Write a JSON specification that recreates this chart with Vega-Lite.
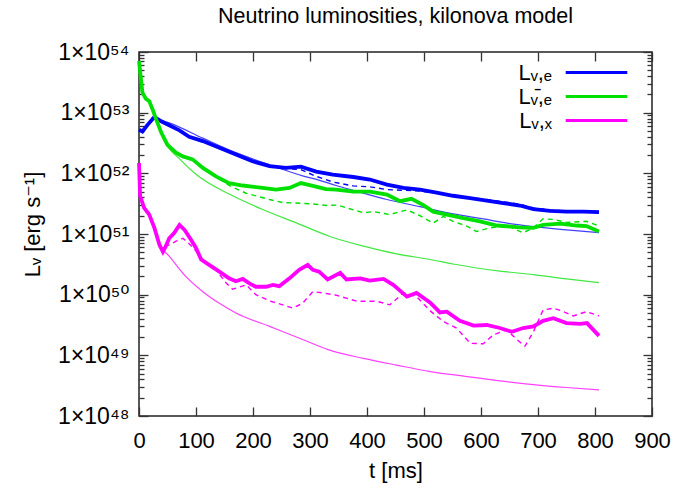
{
  "$schema": "https://vega.github.io/schema/vega-lite/v6.json",
  "width": 513,
  "height": 364,
  "autosize": "none",
  "padding": {"left": 139, "top": 52, "right": 46, "bottom": 77},
  "background": "white",
  "title": {"text": "Neutrino luminosities, kilonova model", "fontSize": 21.5, "fontWeight": "normal", "font": "Liberation Sans, DejaVu Sans", "anchor": "middle", "frame": "group", "offset": 14, "color": "#000"},
  "config": {
    "view": {"stroke": "#222", "strokeWidth": 1.5},
    "axis": {"grid": false, "domain": false, "labelFlush": false, "labelFont": "Liberation Sans, DejaVu Sans", "labelColor": "#000", "labelFontSize": 22, "titleFont": "Liberation Sans, DejaVu Sans", "titleFontWeight": "normal", "titleFontSize": 22, "titleColor": "#000", "tickColor": "#333", "tickWidth": 1.3, "tickOpacity": 1}
  },
  "data": {"values": [
    {"t":0,"L":5.25e52,"series":"nue","kind":"sim"},{"t":6,"L":4.9e52,"series":"nue","kind":"sim"},{"t":15,"L":6.3e52,"series":"nue","kind":"sim"},{"t":27,"L":8.5e52,"series":"nue","kind":"sim"},{"t":39,"L":7.2e52,"series":"nue","kind":"sim"},{"t":53,"L":6.2e52,"series":"nue","kind":"sim"},{"t":71,"L":5.1e52,"series":"nue","kind":"sim"},{"t":88,"L":4.0e52,"series":"nue","kind":"sim"},{"t":112,"L":3.4e52,"series":"nue","kind":"sim"},{"t":141,"L":2.63e52,"series":"nue","kind":"sim"},{"t":170,"L":2.04e52,"series":"nue","kind":"sim"},{"t":199,"L":1.58e52,"series":"nue","kind":"sim"},{"t":229,"L":1.32e52,"series":"nue","kind":"sim"},{"t":258,"L":1.23e52,"series":"nue","kind":"sim"},{"t":284,"L":1.29e52,"series":"nue","kind":"sim"},{"t":311,"L":1.07e52,"series":"nue","kind":"sim"},{"t":340,"L":9.5e51,"series":"nue","kind":"sim"},{"t":376,"L":8.7e51,"series":"nue","kind":"sim"},{"t":405,"L":7.9e51,"series":"nue","kind":"sim"},{"t":435,"L":6.5e51,"series":"nue","kind":"sim"},{"t":464,"L":5.75e51,"series":"nue","kind":"sim"},{"t":493,"L":5.4e51,"series":"nue","kind":"sim"},{"t":522,"L":4.8e51,"series":"nue","kind":"sim"},{"t":551,"L":4.27e51,"series":"nue","kind":"sim"},{"t":581,"L":3.9e51,"series":"nue","kind":"sim"},{"t":610,"L":3.55e51,"series":"nue","kind":"sim"},{"t":639,"L":3.24e51,"series":"nue","kind":"sim"},{"t":668,"L":2.95e51,"series":"nue","kind":"sim"},{"t":692,"L":2.57e51,"series":"nue","kind":"sim"},{"t":721,"L":2.4e51,"series":"nue","kind":"sim"},{"t":750,"L":2.34e51,"series":"nue","kind":"sim"},{"t":780,"L":2.34e51,"series":"nue","kind":"sim"},{"t":807,"L":2.29e51,"series":"nue","kind":"sim"},

    {"t":0,"L":5.25e52,"series":"nue","kind":"alt"},{"t":6,"L":4.9e52,"series":"nue","kind":"alt"},{"t":15,"L":6.3e52,"series":"nue","kind":"alt"},{"t":27,"L":8.5e52,"series":"nue","kind":"alt"},{"t":39,"L":7.2e52,"series":"nue","kind":"alt"},{"t":53,"L":6.2e52,"series":"nue","kind":"alt"},{"t":71,"L":5.1e52,"series":"nue","kind":"alt"},{"t":88,"L":4.0e52,"series":"nue","kind":"alt"},{"t":112,"L":3.4e52,"series":"nue","kind":"alt"},{"t":141,"L":2.63e52,"series":"nue","kind":"alt"},{"t":170,"L":2.04e52,"series":"nue","kind":"alt"},{"t":199,"L":1.58e52,"series":"nue","kind":"alt"},{"t":229,"L":1.32e52,"series":"nue","kind":"alt"},{"t":258,"L":1.2e52,"series":"nue","kind":"alt"},{"t":284,"L":1.15e52,"series":"nue","kind":"alt"},{"t":311,"L":8.9e51,"series":"nue","kind":"alt"},{"t":340,"L":7.2e51,"series":"nue","kind":"alt"},{"t":376,"L":6.2e51,"series":"nue","kind":"alt"},{"t":405,"L":6.0e51,"series":"nue","kind":"alt"},{"t":435,"L":5.4e51,"series":"nue","kind":"alt"},{"t":464,"L":5.25e51,"series":"nue","kind":"alt"},{"t":493,"L":5.1e51,"series":"nue","kind":"alt"},{"t":522,"L":4.7e51,"series":"nue","kind":"alt"},{"t":551,"L":4.27e51,"series":"nue","kind":"alt"},{"t":581,"L":3.98e51,"series":"nue","kind":"alt"},{"t":610,"L":3.7e51,"series":"nue","kind":"alt"},{"t":639,"L":3.4e51,"series":"nue","kind":"alt"},{"t":668,"L":3.1e51,"series":"nue","kind":"alt"},{"t":692,"L":2.7e51,"series":"nue","kind":"alt"},{"t":721,"L":2.5e51,"series":"nue","kind":"alt"},{"t":750,"L":2.4e51,"series":"nue","kind":"alt"},{"t":780,"L":2.34e51,"series":"nue","kind":"alt"},{"t":807,"L":2.24e51,"series":"nue","kind":"alt"},

    {"t":22,"L":8.3e52,"series":"nue","kind":"fit"},{"t":53,"L":6.8e52,"series":"nue","kind":"fit"},{"t":112,"L":3.8e52,"series":"nue","kind":"fit"},{"t":170,"L":2.19e52,"series":"nue","kind":"fit"},{"t":229,"L":1.38e52,"series":"nue","kind":"fit"},{"t":287,"L":9.1e51,"series":"nue","kind":"fit"},{"t":318,"L":7.6e51,"series":"nue","kind":"fit"},{"t":346,"L":6.3e51,"series":"nue","kind":"fit"},{"t":376,"L":5.25e51,"series":"nue","kind":"fit"},{"t":435,"L":3.7e51,"series":"nue","kind":"fit"},{"t":493,"L":2.82e51,"series":"nue","kind":"fit"},{"t":551,"L":2.14e51,"series":"nue","kind":"fit"},{"t":610,"L":1.74e51,"series":"nue","kind":"fit"},{"t":633,"L":1.58e51,"series":"nue","kind":"fit"},{"t":668,"L":1.41e51,"series":"nue","kind":"fit"},{"t":692,"L":1.32e51,"series":"nue","kind":"fit"},{"t":750,"L":1.17e51,"series":"nue","kind":"fit"},{"t":807,"L":1.05e51,"series":"nue","kind":"fit"},

    {"t":0,"L":7.1e53,"series":"anue","kind":"sim"},{"t":6,"L":2.14e53,"series":"anue","kind":"sim"},{"t":12,"L":1.7e53,"series":"anue","kind":"sim"},{"t":18,"L":1.55e53,"series":"anue","kind":"sim"},{"t":24,"L":1.12e53,"series":"anue","kind":"sim"},{"t":30,"L":7.8e52,"series":"anue","kind":"sim"},{"t":39,"L":4.7e52,"series":"anue","kind":"sim"},{"t":50,"L":2.95e52,"series":"anue","kind":"sim"},{"t":65,"L":2.19e52,"series":"anue","kind":"sim"},{"t":77,"L":1.9e52,"series":"anue","kind":"sim"},{"t":94,"L":1.7e52,"series":"anue","kind":"sim"},{"t":112,"L":1.23e52,"series":"anue","kind":"sim"},{"t":135,"L":8.9e51,"series":"anue","kind":"sim"},{"t":158,"L":6.9e51,"series":"anue","kind":"sim"},{"t":182,"L":6.3e51,"series":"anue","kind":"sim"},{"t":217,"L":5.75e51,"series":"anue","kind":"sim"},{"t":240,"L":5.4e51,"series":"anue","kind":"sim"},{"t":264,"L":5.75e51,"series":"anue","kind":"sim"},{"t":284,"L":6.9e51,"series":"anue","kind":"sim"},{"t":305,"L":6.2e51,"series":"anue","kind":"sim"},{"t":328,"L":5.5e51,"series":"anue","kind":"sim"},{"t":346,"L":5.4e51,"series":"anue","kind":"sim"},{"t":376,"L":5.0e51,"series":"anue","kind":"sim"},{"t":405,"L":5.0e51,"series":"anue","kind":"sim"},{"t":435,"L":4.47e51,"series":"anue","kind":"sim"},{"t":458,"L":3.47e51,"series":"anue","kind":"sim"},{"t":478,"L":3.8e51,"series":"anue","kind":"sim"},{"t":499,"L":3.0e51,"series":"anue","kind":"sim"},{"t":516,"L":2.34e51,"series":"anue","kind":"sim"},{"t":540,"L":2.09e51,"series":"anue","kind":"sim"},{"t":569,"L":1.82e51,"series":"anue","kind":"sim"},{"t":598,"L":1.62e51,"series":"anue","kind":"sim"},{"t":628,"L":1.38e51,"series":"anue","kind":"sim"},{"t":668,"L":1.29e51,"series":"anue","kind":"sim"},{"t":692,"L":1.26e51,"series":"anue","kind":"sim"},{"t":709,"L":1.41e51,"series":"anue","kind":"sim"},{"t":739,"L":1.48e51,"series":"anue","kind":"sim"},{"t":768,"L":1.38e51,"series":"anue","kind":"sim"},{"t":785,"L":1.35e51,"series":"anue","kind":"sim"},{"t":807,"L":1.1e51,"series":"anue","kind":"sim"},

    {"t":0,"L":7.1e53,"series":"anue","kind":"alt"},{"t":6,"L":2.14e53,"series":"anue","kind":"alt"},{"t":12,"L":1.7e53,"series":"anue","kind":"alt"},{"t":18,"L":1.55e53,"series":"anue","kind":"alt"},{"t":24,"L":1.12e53,"series":"anue","kind":"alt"},{"t":30,"L":7.8e52,"series":"anue","kind":"alt"},{"t":39,"L":4.7e52,"series":"anue","kind":"alt"},{"t":50,"L":2.95e52,"series":"anue","kind":"alt"},{"t":65,"L":2.19e52,"series":"anue","kind":"alt"},{"t":77,"L":1.9e52,"series":"anue","kind":"alt"},{"t":94,"L":1.7e52,"series":"anue","kind":"alt"},{"t":112,"L":1.23e52,"series":"anue","kind":"alt"},{"t":135,"L":8.9e51,"series":"anue","kind":"alt"},{"t":158,"L":6.3e51,"series":"anue","kind":"alt"},{"t":188,"L":4.7e51,"series":"anue","kind":"alt"},{"t":229,"L":3.7e51,"series":"anue","kind":"alt"},{"t":252,"L":3.3e51,"series":"anue","kind":"alt"},{"t":275,"L":3.24e51,"series":"anue","kind":"alt"},{"t":310,"L":3.1e51,"series":"anue","kind":"alt"},{"t":329,"L":2.95e51,"series":"anue","kind":"alt"},{"t":348,"L":3.0e51,"series":"anue","kind":"alt"},{"t":364,"L":2.7e51,"series":"anue","kind":"alt"},{"t":394,"L":2.24e51,"series":"anue","kind":"alt"},{"t":411,"L":2.34e51,"series":"anue","kind":"alt"},{"t":440,"L":2.09e51,"series":"anue","kind":"alt"},{"t":470,"L":2.5e51,"series":"anue","kind":"alt"},{"t":493,"L":2.0e51,"series":"anue","kind":"alt"},{"t":516,"L":1.51e51,"series":"anue","kind":"alt"},{"t":534,"L":1.95e51,"series":"anue","kind":"alt"},{"t":551,"L":1.62e51,"series":"anue","kind":"alt"},{"t":575,"L":1.35e51,"series":"anue","kind":"alt"},{"t":592,"L":1.1e51,"series":"anue","kind":"alt"},{"t":616,"L":1.26e51,"series":"anue","kind":"alt"},{"t":645,"L":1.38e51,"series":"anue","kind":"alt"},{"t":674,"L":1.05e51,"series":"anue","kind":"alt"},{"t":692,"L":1.26e51,"series":"anue","kind":"alt"},{"t":709,"L":1.78e51,"series":"anue","kind":"alt"},{"t":727,"L":1.74e51,"series":"anue","kind":"alt"},{"t":750,"L":1.55e51,"series":"anue","kind":"alt"},{"t":785,"L":1.62e51,"series":"anue","kind":"alt"},{"t":807,"L":1.35e51,"series":"anue","kind":"alt"},

    {"t":30,"L":7.8e52,"series":"anue","kind":"fit"},{"t":43,"L":3.6e52,"series":"anue","kind":"fit"},{"t":72,"L":1.7e52,"series":"anue","kind":"fit"},{"t":101,"L":9.5e51,"series":"anue","kind":"fit"},{"t":160,"L":4.47e51,"series":"anue","kind":"fit"},{"t":218,"L":2.51e51,"series":"anue","kind":"fit"},{"t":277,"L":1.51e51,"series":"anue","kind":"fit"},{"t":335,"L":9.1e50,"series":"anue","kind":"fit"},{"t":394,"L":6.3e50,"series":"anue","kind":"fit"},{"t":452,"L":4.7e50,"series":"anue","kind":"fit"},{"t":511,"L":3.8e50,"series":"anue","kind":"fit"},{"t":551,"L":3.2e50,"series":"anue","kind":"fit"},{"t":633,"L":2.45e50,"series":"anue","kind":"fit"},{"t":692,"L":2.14e50,"series":"anue","kind":"fit"},{"t":750,"L":1.82e50,"series":"anue","kind":"fit"},{"t":807,"L":1.58e50,"series":"anue","kind":"fit"},

    {"t":0,"L":1.48e52,"series":"nux","kind":"sim"},{"t":2,"L":4.2e51,"series":"nux","kind":"sim"},{"t":9,"L":2.7e51,"series":"nux","kind":"sim"},{"t":18,"L":2.09e51,"series":"nux","kind":"sim"},{"t":27,"L":1.26e51,"series":"nux","kind":"sim"},{"t":36,"L":6.6e50,"series":"nux","kind":"sim"},{"t":42,"L":5.1e50,"series":"nux","kind":"sim"},{"t":47,"L":6.3e50,"series":"nux","kind":"sim"},{"t":53,"L":8.5e50,"series":"nux","kind":"sim"},{"t":62,"L":1.05e51,"series":"nux","kind":"sim"},{"t":71,"L":1.41e51,"series":"nux","kind":"sim"},{"t":80,"L":1.17e51,"series":"nux","kind":"sim"},{"t":91,"L":8.1e50,"series":"nux","kind":"sim"},{"t":100,"L":5.9e50,"series":"nux","kind":"sim"},{"t":109,"L":3.8e50,"series":"nux","kind":"sim"},{"t":123,"L":3.1e50,"series":"nux","kind":"sim"},{"t":141,"L":2.4e50,"series":"nux","kind":"sim"},{"t":158,"L":1.86e50,"series":"nux","kind":"sim"},{"t":170,"L":1.66e50,"series":"nux","kind":"sim"},{"t":182,"L":1.82e50,"series":"nux","kind":"sim"},{"t":193,"L":1.55e50,"series":"nux","kind":"sim"},{"t":205,"L":1.35e50,"series":"nux","kind":"sim"},{"t":223,"L":1.35e50,"series":"nux","kind":"sim"},{"t":235,"L":1.45e50,"series":"nux","kind":"sim"},{"t":246,"L":1.38e50,"series":"nux","kind":"sim"},{"t":264,"L":1.86e50,"series":"nux","kind":"sim"},{"t":281,"L":2.57e50,"series":"nux","kind":"sim"},{"t":296,"L":3.1e50,"series":"nux","kind":"sim"},{"t":305,"L":2.57e50,"series":"nux","kind":"sim"},{"t":316,"L":2.4e50,"series":"nux","kind":"sim"},{"t":331,"L":1.78e50,"series":"nux","kind":"sim"},{"t":353,"L":2.29e50,"series":"nux","kind":"sim"},{"t":364,"L":1.78e50,"series":"nux","kind":"sim"},{"t":388,"L":1.86e50,"series":"nux","kind":"sim"},{"t":405,"L":1.7e50,"series":"nux","kind":"sim"},{"t":429,"L":1.82e50,"series":"nux","kind":"sim"},{"t":446,"L":1.45e50,"series":"nux","kind":"sim"},{"t":470,"L":9.3e49,"series":"nux","kind":"sim"},{"t":487,"L":1.07e50,"series":"nux","kind":"sim"},{"t":511,"L":7.4e49,"series":"nux","kind":"sim"},{"t":528,"L":5.1e49,"series":"nux","kind":"sim"},{"t":540,"L":5.25e49,"series":"nux","kind":"sim"},{"t":563,"L":3.7e49,"series":"nux","kind":"sim"},{"t":587,"L":3.1e49,"series":"nux","kind":"sim"},{"t":610,"L":3.16e49,"series":"nux","kind":"sim"},{"t":633,"L":2.82e49,"series":"nux","kind":"sim"},{"t":654,"L":2.45e49,"series":"nux","kind":"sim"},{"t":674,"L":2.82e49,"series":"nux","kind":"sim"},{"t":692,"L":3.0e49,"series":"nux","kind":"sim"},{"t":709,"L":3.7e49,"series":"nux","kind":"sim"},{"t":727,"L":4.1e49,"series":"nux","kind":"sim"},{"t":750,"L":3.4e49,"series":"nux","kind":"sim"},{"t":774,"L":3.3e49,"series":"nux","kind":"sim"},{"t":786,"L":3.4e49,"series":"nux","kind":"sim"},{"t":807,"L":2.09e49,"series":"nux","kind":"sim"},

    {"t":0,"L":1.48e52,"series":"nux","kind":"alt"},{"t":2,"L":4.2e51,"series":"nux","kind":"alt"},{"t":9,"L":2.7e51,"series":"nux","kind":"alt"},{"t":18,"L":2.09e51,"series":"nux","kind":"alt"},{"t":27,"L":1.26e51,"series":"nux","kind":"alt"},{"t":36,"L":6.6e50,"series":"nux","kind":"alt"},{"t":42,"L":5.1e50,"series":"nux","kind":"alt"},{"t":47,"L":6.3e50,"series":"nux","kind":"alt"},{"t":53,"L":6.6e50,"series":"nux","kind":"alt"},{"t":65,"L":7.6e50,"series":"nux","kind":"alt"},{"t":77,"L":8.5e50,"series":"nux","kind":"alt"},{"t":88,"L":6.9e50,"series":"nux","kind":"alt"},{"t":100,"L":5.25e50,"series":"nux","kind":"alt"},{"t":112,"L":3.8e50,"series":"nux","kind":"alt"},{"t":135,"L":2.57e50,"series":"nux","kind":"alt"},{"t":153,"L":1.55e50,"series":"nux","kind":"alt"},{"t":164,"L":1.23e50,"series":"nux","kind":"alt"},{"t":188,"L":1.45e50,"series":"nux","kind":"alt"},{"t":205,"L":1.0e50,"series":"nux","kind":"alt"},{"t":229,"L":7.9e49,"series":"nux","kind":"alt"},{"t":252,"L":6.8e49,"series":"nux","kind":"alt"},{"t":270,"L":6.0e49,"series":"nux","kind":"alt"},{"t":287,"L":7.2e49,"series":"nux","kind":"alt"},{"t":305,"L":1.12e50,"series":"nux","kind":"alt"},{"t":322,"L":1.07e50,"series":"nux","kind":"alt"},{"t":346,"L":9.8e49,"series":"nux","kind":"alt"},{"t":382,"L":7.8e49,"series":"nux","kind":"alt"},{"t":417,"L":7.8e49,"series":"nux","kind":"alt"},{"t":440,"L":6.8e49,"series":"nux","kind":"alt"},{"t":464,"L":1.07e50,"series":"nux","kind":"alt"},{"t":487,"L":9.3e49,"series":"nux","kind":"alt"},{"t":511,"L":5.4e49,"series":"nux","kind":"alt"},{"t":534,"L":3.6e49,"series":"nux","kind":"alt"},{"t":557,"L":2.82e49,"series":"nux","kind":"alt"},{"t":581,"L":1.58e49,"series":"nux","kind":"alt"},{"t":604,"L":1.55e49,"series":"nux","kind":"alt"},{"t":622,"L":2.19e49,"series":"nux","kind":"alt"},{"t":645,"L":2.63e49,"series":"nux","kind":"alt"},{"t":663,"L":1.82e49,"series":"nux","kind":"alt"},{"t":677,"L":1.41e49,"series":"nux","kind":"alt"},{"t":692,"L":2.45e49,"series":"nux","kind":"alt"},{"t":709,"L":5.6e49,"series":"nux","kind":"alt"},{"t":727,"L":6.0e49,"series":"nux","kind":"alt"},{"t":745,"L":5.25e49,"series":"nux","kind":"alt"},{"t":762,"L":4.47e49,"series":"nux","kind":"alt"},{"t":785,"L":5.25e49,"series":"nux","kind":"alt"},{"t":807,"L":4.47e49,"series":"nux","kind":"alt"},

    {"t":10,"L":2.8e51,"series":"nux","kind":"fit"},{"t":20,"L":1.78e51,"series":"nux","kind":"fit"},{"t":36,"L":6.6e50,"series":"nux","kind":"fit"},{"t":53,"L":4.3e50,"series":"nux","kind":"fit"},{"t":82,"L":2.0e50,"series":"nux","kind":"fit"},{"t":112,"L":1.12e50,"series":"nux","kind":"fit"},{"t":141,"L":7.2e49,"series":"nux","kind":"fit"},{"t":170,"L":5.0e49,"series":"nux","kind":"fit"},{"t":229,"L":3.0e49,"series":"nux","kind":"fit"},{"t":287,"L":1.82e49,"series":"nux","kind":"fit"},{"t":340,"L":1.17e49,"series":"nux","kind":"fit"},{"t":394,"L":8.9e48,"series":"nux","kind":"fit"},{"t":452,"L":6.9e48,"series":"nux","kind":"fit"},{"t":511,"L":5.4e48,"series":"nux","kind":"fit"},{"t":575,"L":4.47e48,"series":"nux","kind":"fit"},{"t":633,"L":3.8e48,"series":"nux","kind":"fit"},{"t":692,"L":3.3e48,"series":"nux","kind":"fit"},{"t":750,"L":2.95e48,"series":"nux","kind":"fit"},{"t":807,"L":2.69e48,"series":"nux","kind":"fit"}
  ]},
  "layer": [
    {
      "transform": [{"filter": "datum.kind == 'fit'"}],
      "mark": {"type": "line", "strokeWidth": 1.2, "opacity": 0.75, "interpolate": "monotone"},
      "encoding": {
        "x": {"field": "t", "type": "quantitative", "scale": {"domain": [0, 900], "nice": false, "zero": false},
              "axis": {"orient": "bottom", "values": [0,100,200,300,400,500,600,700,800,900], "ticks": true, "tickSize": 9, "offset": -9, "labelPadding": 14, "title": "t [ms]", "titleY": 63, "titleBaseline": "middle"}},
        "y": {"field": "L", "type": "quantitative", "scale": {"type": "log", "domain": [1e48, 1e54], "nice": false},
              "axis": {"orient": "left", "values": [1e48,1e49,1e50,1e51,1e52,1e53,1e54], "ticks": true, "tickSize": 9, "offset": -9, "labelPadding": 10, "labelFontSize": 23,
                       "labelExpr": "'1×10' + (round(log(datum.value)/LN10) == 54 ? '⁵⁴' : round(log(datum.value)/LN10) == 53 ? '⁵³' : round(log(datum.value)/LN10) == 52 ? '⁵²' : round(log(datum.value)/LN10) == 51 ? '⁵¹' : round(log(datum.value)/LN10) == 50 ? '⁵⁰' : round(log(datum.value)/LN10) == 49 ? '⁴⁹' : '⁴⁸')",
                       "title": "Lᵥ [erg s⁻¹]", "titleX": -116, "titleY": 172, "titleAngle": 270, "titleAlign": "center", "titleBaseline": "middle"}},
        "color": {"field": "series", "type": "nominal", "scale": {"domain": ["nue", "anue", "nux"], "range": ["#0000ff", "#00e000", "#ff00ff"]},
                  "legend": {"orient": "none", "legendX": 445, "legendY": 8, "title": null, "symbolType": "M-2.8,0H2.8", "symbolSize": 484, "symbolStrokeWidth": 3, "symbolOpacity": 1, "rowPadding": 0, "padding": 0,
                             "labelAlign": "right", "labelOffset": -57, "labelFont": "Liberation Sans, DejaVu Sans", "labelFontSize": 22, "labelColor": "#000", "labelLimit": 300,
                             "labelExpr": "datum.value == 'nue' ? 'Lᵥ,ₑ' : datum.value == 'anue' ? 'Lᵥ̄,ₑ' : 'Lᵥ,ₓ'"}},
        "detail": {"field": "series"}
      }
    },
    {
      "transform": [{"filter": "datum.kind == 'alt'"}],
      "mark": {"type": "line", "strokeWidth": 1.4, "strokeDash": [5, 4]},
      "encoding": {
        "x": {"field": "t", "type": "quantitative",
              "axis": {"orient": "top", "values": [0,100,200,300,400,500,600,700,800,900], "labels": false, "ticks": true, "tickSize": 9, "offset": -9, "title": null}},
        "y": {"field": "L", "type": "quantitative",
              "axis": {"orient": "right", "values": [1e48,1e49,1e50,1e51,1e52,1e53,1e54], "labels": false, "ticks": true, "tickSize": 9, "offset": -9, "title": null}},
        "color": {"field": "series", "type": "nominal"},
        "detail": {"field": "series"}
      }
    },
    {
      "transform": [{"filter": "datum.kind == 'fit' && datum.series == 'nux'"}],
      "mark": {"type": "point", "opacity": 0},
      "encoding": {
        "x": {"field": "t", "type": "quantitative", "axis": null},
        "y": {"field": "L", "type": "quantitative",
              "axis": {"orient": "left", "values": [2e48,3e48,4e48,5e48,6e48,7e48,8e48,9e48,2e49,3e49,4e49,5e49,6e49,7e49,8e49,9e49,2e50,3e50,4e50,5e50,6e50,7e50,8e50,9e50,2e51,3e51,4e51,5e51,6e51,7e51,8e51,9e51,2e52,3e52,4e52,5e52,6e52,7e52,8e52,9e52,2e53,3e53,4e53,5e53,6e53,7e53,8e53,9e53], "labels": false, "ticks": true, "tickSize": 5, "offset": -5, "title": null}}
      }
    },
    {
      "transform": [{"filter": "datum.kind == 'fit' && datum.series == 'nux'"}],
      "mark": {"type": "point", "opacity": 0},
      "encoding": {
        "x": {"field": "t", "type": "quantitative", "axis": null},
        "y": {"field": "L", "type": "quantitative",
              "axis": {"orient": "right", "values": [2e48,3e48,4e48,5e48,6e48,7e48,8e48,9e48,2e49,3e49,4e49,5e49,6e49,7e49,8e49,9e49,2e50,3e50,4e50,5e50,6e50,7e50,8e50,9e50,2e51,3e51,4e51,5e51,6e51,7e51,8e51,9e51,2e52,3e52,4e52,5e52,6e52,7e52,8e52,9e52,2e53,3e53,4e53,5e53,6e53,7e53,8e53,9e53], "labels": false, "ticks": true, "tickSize": 5, "offset": -5, "title": null}}
      }
    },
    {
      "transform": [{"filter": "datum.kind == 'sim'"}],
      "mark": {"type": "line", "strokeWidth": 3.8},
      "encoding": {
        "x": {"field": "t", "type": "quantitative", "axis": null},
        "y": {"field": "L", "type": "quantitative", "axis": null},
        "color": {"field": "series", "type": "nominal"},
        "detail": {"field": "series"}
      }
    }
  ],
  "resolve": {"axis": {"x": "independent", "y": "independent"}}
}
